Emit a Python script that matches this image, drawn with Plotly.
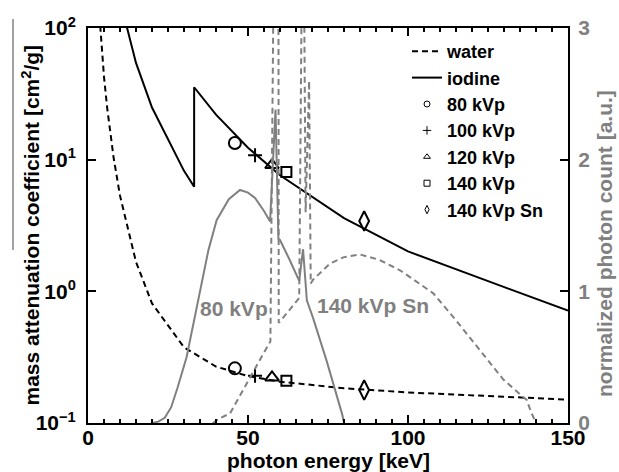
import plotly.graph_objects as go

# ---------------- data ----------------
# mass attenuation coefficients [cm^2/g]
energy_water = [1, 1.5, 2, 3, 4, 5, 6, 8, 10, 15, 20, 30, 40, 50, 60, 80, 100, 150]
mu_water = [4078, 1376, 617.3, 192.9, 82.78, 42.58, 24.64, 10.37, 5.329, 1.673,
            0.8096, 0.3756, 0.2683, 0.2269, 0.2059, 0.1837, 0.1707, 0.1505]

energy_iodine = [10, 15, 20, 30, 33.17, 33.17, 40, 50, 60, 80, 100, 150]
mu_iodine = [162.6, 54.33, 24.87, 8.222, 6.224, 35.48, 21.95, 12.32, 7.616, 3.604, 2.010, 0.713]

# mean energies of spectra and attenuation there
spectra_labels = ["80 kVp", "100 kVp", "120 kVp", "140 kVp", "140 kVp Sn"]
mean_energy = [45.9, 52.2, 57.5, 62.0, 86.3]
mu_iodine_mean = [13.4, 10.8, 9.1, 8.05, 3.42]
mu_water_mean = [0.260, 0.228, 0.222, 0.209, 0.178]

# normalized spectra [a.u.]
energy_80 = [20, 22, 24, 26, 28, 30.8, 34, 37.6, 40.2, 44, 47.5, 50, 52.2, 55, 56.9,
             58.6, 59.5, 60, 63, 66.0, 67.2, 68.4, 70.3, 74.6, 79.5, 80]
count_80 = [0, 0.01, 0.04, 0.12, 0.27, 0.50, 0.88, 1.31, 1.54, 1.70, 1.77, 1.75, 1.71,
            1.61, 1.53, 2.38, 1.40, 1.39, 1.24, 1.08, 1.32, 0.93, 0.80, 0.47, 0.06, 0]

energy_sn = [39, 41.25, 44.4, 47, 49.6, 53.5, 57.0, 58.6, 59.3, 59.6, 63, 66.0, 67.2,
             68.0, 69.1, 69.6, 70.4, 75.6, 80, 85, 91, 97.5, 101.7, 107.9, 115, 121.5,
             125, 129.8, 133.5, 137.1, 138.5, 140]
count_sn = [0, 0.036, 0.074, 0.19, 0.30, 0.47, 0.62, 5.0, 10.0, 0.76, 0.86, 0.95, 4.5,
            1.6, 2.6, 1.06, 1.09, 1.21, 1.26, 1.28, 1.24, 1.16, 1.09, 0.985, 0.78, 0.58,
            0.475, 0.33, 0.25, 0.175, 0.08, 0]

symbols = ["circle-open", "cross-thin-open", "triangle-up-open", "square-open", "diamond-tall-open"]
marker_sizes = [12, 10, 12, 10, 14]

x_ticks = [0, 50, 100, 150]
y_tickvals = [0.1, 1, 10, 100]
y_ticktext = ["10<sup>\u22121</sup>", "10<sup>0</sup>", "10<sup>1</sup>", "10<sup>2</sup>"]
y2_ticks = [0, 1, 2, 3]

GRAY = "#808080"
FONT = "Liberation Sans, Arial, Helvetica, sans-serif"

fig = go.Figure()

# spectra (right axis)
fig.add_trace(go.Scatter(x=energy_80, y=count_80, yaxis="y2", mode="lines",
                         line=dict(color=GRAY, width=2), showlegend=False))
fig.add_trace(go.Scatter(x=energy_sn, y=count_sn, yaxis="y2", mode="lines",
                         line=dict(color=GRAY, width=2, dash="6px,4px"), showlegend=False))

# attenuation curves
fig.add_trace(go.Scatter(x=energy_water, y=mu_water, mode="lines", name="water",
                         line=dict(color="black", width=2, dash="6px,4px")))
fig.add_trace(go.Scatter(x=energy_iodine, y=mu_iodine, mode="lines", name="iodine",
                         line=dict(color="black", width=2)))

# mean-energy markers
for lab, e, mi, mw, sym, sz in zip(spectra_labels, mean_energy, mu_iodine_mean,
                                   mu_water_mean, symbols, marker_sizes):
    fig.add_trace(go.Scatter(x=[e, e], y=[mi, mw], mode="markers", showlegend=False,
                             marker=dict(symbol=sym, size=sz, color="black",
                                         line=dict(color="black", width=2))))
    fig.add_trace(go.Scatter(x=[None], y=[None], mode="markers", name=lab,
                             marker=dict(symbol=sym, size=6, color="black",
                                         line=dict(color="black", width=1))))

fig.update_layout(
    width=619, height=472, autosize=False,
    margin=dict(l=88, r=51, t=28, b=49),
    paper_bgcolor="white", plot_bgcolor="white",
    font=dict(family=FONT, size=21, color="black", weight="bold"),
    showlegend=True,
    legend=dict(x=(407 - 88) / 480, y=(423 - 33) / 395, xanchor="left", yanchor="top",
                bgcolor="rgba(0,0,0,0)", borderwidth=0, tracegroupgap=0,
                font=dict(family=FONT, size=18, color="black", weight="bold"),
                itemwidth=30),
    xaxis=dict(range=[0, 150], tickvals=x_ticks, ticks="inside", ticklen=8, tickwidth=1.5,
               tickcolor="black", showline=True, linecolor="black", linewidth=2,
               mirror="ticks", showgrid=False, zeroline=False, ticklabelstandoff=-5,
               minor=dict(dtick=5, ticks="inside", ticklen=4, tickwidth=1.5, tickcolor="black"),
               tickfont=dict(family=FONT, size=21, color="black", weight="bold")),
    yaxis=dict(type="log", range=[-1, 2], tickvals=y_tickvals, ticktext=y_ticktext,
               ticks="inside", ticklen=8, tickwidth=1.5, tickcolor="black",
               showline=True, linecolor="black", linewidth=2, mirror="ticks",
               showgrid=False, zeroline=False, ticklabelstandoff=6,
               tickfont=dict(family=FONT, size=21, color="black", weight="bold")),
    yaxis2=dict(overlaying="y", side="right", range=[0, 3], tickvals=y2_ticks,
                ticks="inside", ticklen=8, tickwidth=1.5, tickcolor="black",
                showline=True, linecolor="black", linewidth=2, showgrid=False,
                zeroline=False, ticklabelstandoff=4,
                tickfont=dict(family=FONT, size=21, color=GRAY, weight="bold")),
)

# axis titles
fig.add_annotation(text="photon energy [keV]", xref="paper", yref="paper",
                   x=0.5, y=(423 - 460) / 395, xanchor="center", yanchor="middle",
                   showarrow=False, font=dict(family=FONT, size=21, color="black", weight="bold"))
fig.add_annotation(text="mass attenuation coefficient [cm<sup>2</sup>/g]", xref="paper",
                   yref="paper", x=(30 - 88) / 480, y=0.5, xanchor="center", yanchor="middle",
                   textangle=-90, showarrow=False,
                   font=dict(family=FONT, size=21, color="black", weight="bold"))
fig.add_annotation(text="normalized photon count [a.u.]", xref="paper", yref="paper",
                   x=(604 - 88) / 480, y=(423 - 244) / 395, xanchor="center", yanchor="middle",
                   textangle=-90, showarrow=False,
                   font=dict(family=FONT, size=21, color=GRAY, weight="bold"))

# spectrum labels
fig.add_annotation(text="80 kVp", xref="x", yref="y2", x=45.6, y=0.866, showarrow=False,
                   xanchor="center", yanchor="middle",
                   font=dict(family=FONT, size=21, color=GRAY, weight="bold"))
fig.add_annotation(text="140 kVp Sn", xref="x", yref="y2", x=89.1, y=0.896, showarrow=False,
                   xanchor="center", yanchor="middle",
                   font=dict(family=FONT, size=21, color=GRAY, weight="bold"))

# thin vertical stroke left of the y label (present in the original)
fig.add_shape(type="line", xref="paper", yref="paper",
              x0=(13 - 88) / 480, x1=(13 - 88) / 480,
              y0=(423 - 19) / 395, y1=(423 - 250) / 395,
              line=dict(color="#444444", width=1))

fig.write_html("out.html", config={"displayModeBar": False},
               post_script="document.body.style.margin='0px';")
